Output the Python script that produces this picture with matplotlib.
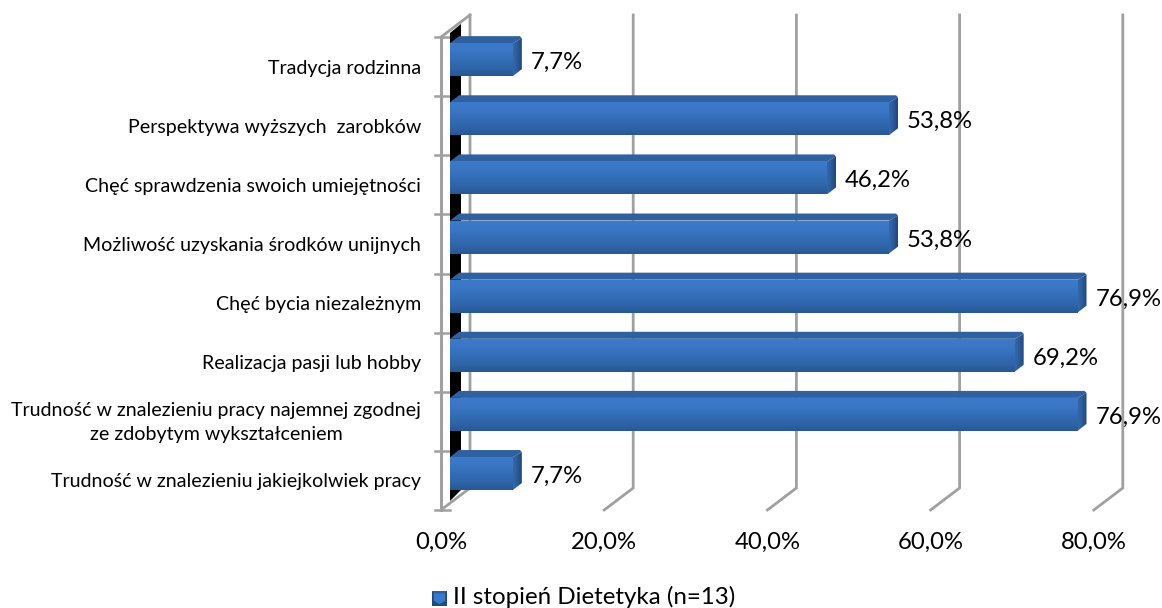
#!/usr/bin/env python3
import numpy as np
import matplotlib
matplotlib.use("Agg")
import matplotlib.pyplot as plt
from matplotlib.colors import LinearSegmentedColormap
from matplotlib.patches import Polygon
from matplotlib.transforms import ScaledTranslation

plt.rcParams['font.family'] = ['Lato', 'DejaVu Sans']

# bottom to top, same order as the axis
categories = [
    "Trudność w znalezieniu jakiejkolwiek pracy",
    "Trudność w znalezieniu pracy najemnej zgodnej\nze zdobytym wykształceniem",
    "Realizacja pasji lub hobby",
    "Chęć bycia niezależnym",
    "Możliwość uzyskania środków unijnych",
    "Chęć sprawdzenia swoich umiejętności",
    "Perspektywa wyższych  zarobków",
    "Tradycja rodzinna",
]
values = [7.7, 76.9, 69.2, 76.9, 53.8, 46.2, 53.8, 7.7]
value_labels = ["7,7%", "76,9%", "69,2%", "76,9%", "53,8%", "46,2%", "53,8%", "7,7%"]
x_ticks = [0, 20, 40, 60, 80]
x_tick_labels = ["0,0%", "20,0%", "40,0%", "60,0%", "80,0%"]
legend_label = "II stopień Dietetyka (n=13)"

W, H = 1162, 608
fig = plt.figure(figsize=(W / 100, H / 100), dpi=100)
ax = fig.add_axes([441 / W, 1 - 510 / H, 652.8 / W, 473 / H])
ax.set_xlim(0, 80)
ax.set_ylim(0, 8)

# one pixel in data units, for the fake 3d offsets
px = 80 / 652.8
py = 8 / 473
depth_x = 29 * px
depth_y = 22 * py
grid = "#a0a0a0"

front = LinearSegmentedColormap.from_list("f", ["#3c7acb", "#3a76c4", "#346eb8", "#2f65a8", "#285894"])
side = LinearSegmentedColormap.from_list("s", ["#3368ab", "#2a5a98", "#1f4678"])


def shade(poly, cmap, extent, horizontal=False, z=3):
    grad = np.linspace(0, 1, 64)
    grad = grad.reshape(1, -1) if horizontal else grad.reshape(-1, 1)
    im = ax.imshow(grad, cmap=cmap, extent=extent, aspect="auto", origin="upper", zorder=z)
    patch = Polygon(poly, closed=True, transform=ax.transData, fc="none", ec="none")
    ax.add_patch(patch)
    im.set_clip_path(patch)


# walls and gridlines
for t in x_ticks:
    ax.plot([t, t + depth_x, t + depth_x], [0, depth_y, 8 + depth_y], color=grid, lw=2,
            clip_on=False, zorder=1, solid_joinstyle="miter")
ax.plot([0, depth_x], [8, 8 + depth_y], color=grid, lw=2, clip_on=False, zorder=1)
ax.plot([0, 0], [0, 8], color=grid, lw=2.2, clip_on=False, zorder=1)
wall_x0, wall_x1 = 9 * px, 20 * px
ax.add_patch(Polygon([(wall_x0, 9 * py), (wall_x1, 20 * py), (wall_x1, 8 + 13 * py), (wall_x0, 8 + 4 * py)],
                     closed=True, fc="black", ec="none", clip_on=False, zorder=2))
for k in range(9):
    ax.plot([-6 * px, 9 * px], [k, k], color=grid, lw=1.8, clip_on=False, zorder=1)

# bars
x0 = 9 * px
for i, (v, lab) in enumerate(zip(values, value_labels)):
    cy = i + 0.5
    y_top = cy + 23.4 * py
    y_bot = cy - 9.6 * py
    x1 = x0 + v
    dx, dy = 9 * px, 7 * py
    r = 2 * px
    ax.add_patch(Polygon([(x0, y_top), (x0 + dx, y_top + dy), (x1 + dx - r, y_top + dy), (x1 + dx, y_top + dy - 2 * py),
                          (x1, y_top)],
                         closed=True, fc="#2f609f", ec="none", clip_on=False, zorder=3))
    side_poly = [(x1, y_top), (x1 + dx, y_top + dy - 2 * py), (x1 + dx, y_bot + dy), (x1, y_bot)]
    shade(side_poly, side, [x1, x1 + dx, y_bot, y_top + dy], horizontal=True)
    front_poly = [(x0, y_top), (x1, y_top), (x1, y_bot), (x0, y_bot)]
    shade(front_poly, front, [x0, x1, y_bot, y_top])
    ax.text(x1 + dx + 9 * px, cy + 4 * py, lab, fontsize=17.2, color="black", ha="left", va="center",
            clip_on=False, zorder=5)

ax.set_xlim(0, 80)
ax.set_ylim(0, 8)

for s in ax.spines.values():
    s.set_visible(False)
ax.patch.set_visible(False)
ax.set_xticks(x_ticks)
ax.set_xticklabels(x_tick_labels, fontsize=17.2)
ax.tick_params(axis="x", length=0, pad=16)
ax.set_yticks(np.arange(len(categories)) + 0.5)
ax.set_yticklabels(categories, fontsize=14.15, ma="center", linespacing=1.5)
ax.tick_params(axis="y", length=0, pad=14.5)
# the two line label sits a bit higher
two_line = ax.get_yticklabels()[1]
two_line.set_transform(two_line.get_transform() + ScaledTranslation(0, 4 / 100, fig.dpi_scale_trans))

# legend swatch and text
lax = fig.add_axes([432 / W, 1 - 606 / H, 15 / W, 15 / H])
lax.axis("off")
lax.set_xlim(0, 1)
lax.set_ylim(0, 1)
lax.add_patch(Polygon([(0, 0), (1, 0), (1, 1), (0, 1)], closed=True, fc="#1f4a80", ec="none"))
lax.add_patch(Polygon([(0, 1), (1, 1), (0.85, 0.85), (0.15, 0.85)], closed=True, fc="#2f609f", ec="none"))
lax.add_patch(Polygon([(0.12, 0.85), (0.88, 0.85), (0.88, 0.35), (0.5, 0.12), (0.12, 0.35)], closed=True,
                      fc="#3a78c8", ec="none"))
fig.text(453 / W, 1 - 597 / H, legend_label, fontsize=17.4, ha="left", va="center")

fig.savefig("out.png", dpi=100)
plt.close(fig)
